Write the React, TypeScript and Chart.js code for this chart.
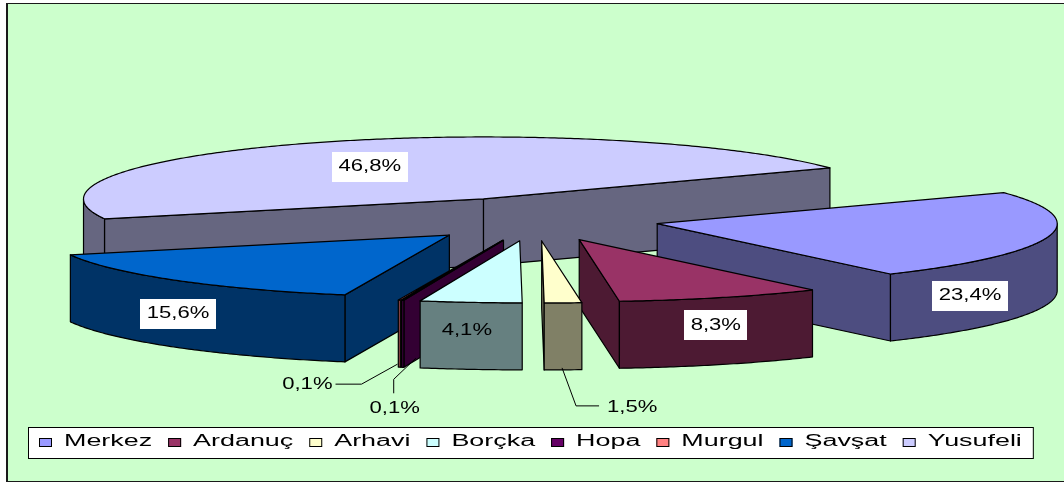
import React, { useEffect, useRef } from 'react';
import { Chart, PieController, ArcElement } from 'chart.js';

Chart.register(PieController, ArcElement);

// ---- data ----
const categories = ['Merkez', 'Ardanuç', 'Arhavi', 'Borçka', 'Hopa', 'Murgul', 'Şavşat', 'Yusufeli'];
const shares = [23.4, 8.3, 1.5, 4.1, 0.1, 0.1, 15.6, 46.8];
const percentLabels = shares.map((v) => v.toFixed(1).replace('.', ',') + '%');

// ---- styles ----
const topColors = ['#9999FF', '#993366', '#FFFFCC', '#CCFFFF', '#660066', '#FF8080', '#0066CC', '#CCCCFF'];
const sideColors = ['#4D4D80', '#4D1A33', '#808066', '#668080', '#330033', '#804040', '#003366', '#666680'];

// screen projection of the tilted pie
const VIEW = { cx: 535, cy: 219, rx: 400, ry: 62, ex: 125, ey: 22, depth: 67 };

const LABEL_FONT = '16px "Liberation Sans", Arial, sans-serif';
const LABEL_STRETCH = 1.38;
const LEGEND_FONT = '16px "Liberation Sans", Arial, sans-serif';
const LEGEND_STRETCH = 1.68;

type Placement =
  | { kind: 'wall' | 'top'; k: number; dy: number; box: boolean }
  | { kind: 'leader'; path: number[][]; text: number[]; align: CanvasTextAlign };

const labelPlacement: Placement[] = [
  { kind: 'wall', k: 0.8, dy: 0, box: true },
  { kind: 'wall', k: 0.965, dy: -6, box: true },
  { kind: 'leader', path: [[-1, -2], [13, 36], [36, 36]], text: [44, 38], align: 'left' },
  { kind: 'wall', k: 1.08, dy: -5, box: false },
  { kind: 'leader', path: [[13, -9], [-9, 12], [-9, 26]], text: [-8, 41], align: 'center' },
  { kind: 'leader', path: [[-2, -3], [-38, 17], [-64, 17]], text: [-67, 17], align: 'right' },
  { kind: 'wall', k: 0.99, dy: 0, box: true },
  { kind: 'top', k: 0.69, dy: 7, box: true },
];

type Geo = { arc: any; i: number; s: number; e: number; h: number; ax: number; ay: number };

function ellPt(g: Geo, t: number, dy = 0): [number, number] {
  return [g.ax + VIEW.rx * Math.cos(t), g.ay + VIEW.ry * Math.sin(t) + dy];
}

function drawSlice(ctx: CanvasRenderingContext2D, g: Geo) {
  const D = VIEW.depth;
  ctx.fillStyle = sideColors[g.i];
  ctx.strokeStyle = '#000';
  ctx.lineWidth = 1.2;
  // radial faces facing the viewer
  const faces: number[] = [];
  if (Math.cos(g.s) < 0) faces.push(g.s);
  if (Math.cos(g.e) > 0) faces.push(g.e);
  for (const t of faces) {
    const [px, py] = ellPt(g, t);
    ctx.beginPath();
    ctx.moveTo(g.ax, g.ay);
    ctx.lineTo(px, py);
    ctx.lineTo(px, py + D);
    ctx.lineTo(g.ax, g.ay + D);
    ctx.closePath();
    ctx.fill();
    ctx.stroke();
  }
  // outer curved wall (front half only)
  for (let k = -1; k <= 2; k++) {
    const lo = Math.max(g.s, 2 * Math.PI * k);
    const hi = Math.min(g.e, 2 * Math.PI * k + Math.PI);
    if (hi <= lo) continue;
    const n = Math.max(2, Math.ceil((hi - lo) / 0.01));
    ctx.beginPath();
    for (let j = 0; j <= n; j++) {
      const [x, y] = ellPt(g, lo + ((hi - lo) * j) / n);
      if (j) ctx.lineTo(x, y);
      else ctx.moveTo(x, y);
    }
    for (let j = n; j >= 0; j--) {
      const [x, y] = ellPt(g, lo + ((hi - lo) * j) / n, D);
      ctx.lineTo(x, y);
    }
    ctx.closePath();
    ctx.fill();
    ctx.stroke();
  }
  // top face: the Chart.js arc element, projected
  const r = g.arc.outerRadius;
  ctx.save();
  ctx.translate(g.ax, g.ay);
  ctx.scale(VIEW.rx / r, VIEW.ry / r);
  ctx.translate(-g.arc.x, -g.arc.y);
  g.arc.draw(ctx);
  ctx.restore();
  // outline of the top face
  const n = Math.max(2, Math.ceil((g.e - g.s) / 0.01));
  ctx.beginPath();
  ctx.moveTo(g.ax, g.ay);
  for (let j = 0; j <= n; j++) {
    const [x, y] = ellPt(g, g.s + ((g.e - g.s) * j) / n);
    ctx.lineTo(x, y);
  }
  ctx.closePath();
  ctx.stroke();
}

function stretchedText(ctx: CanvasRenderingContext2D, text: string, x: number, y: number, s: number, align: CanvasTextAlign) {
  ctx.save();
  ctx.translate(x, y);
  ctx.scale(s, 1);
  ctx.textAlign = align;
  ctx.textBaseline = 'middle';
  ctx.fillText(text, 0, 0);
  ctx.restore();
}

function drawLabels(ctx: CanvasRenderingContext2D, geos: Geo[]) {
  const D = VIEW.depth;
  ctx.save();
  ctx.font = LABEL_FONT;
  for (const g of geos) {
    const spec = labelPlacement[g.i];
    const text = percentLabels[g.i];
    const w = ctx.measureText(text).width * LABEL_STRETCH;
    if (spec.kind === 'leader') {
      const [axp, ayp] = ellPt(g, g.h, D);
      ctx.strokeStyle = '#000';
      ctx.lineWidth = 1;
      ctx.beginPath();
      spec.path.forEach(([dx, dy], j) => {
        if (j) ctx.lineTo(axp + dx, ayp + dy);
        else ctx.moveTo(axp + dx, ayp + dy);
      });
      ctx.stroke();
      ctx.fillStyle = '#000';
      stretchedText(ctx, text, axp + spec.text[0], ayp + spec.text[1], LABEL_STRETCH, spec.align);
      continue;
    }
    let x: number;
    let y: number;
    if (spec.kind === 'wall') {
      const c = spec.k * Math.cos(g.h);
      x = g.ax + spec.k * VIEW.rx * Math.cos(g.h);
      y = g.ay + VIEW.ry * Math.sqrt(Math.max(0, 1 - c * c)) + D / 2 + spec.dy;
    } else {
      x = g.ax + spec.k * VIEW.rx * Math.cos(g.h);
      y = g.ay + spec.k * VIEW.ry * Math.sin(g.h) + spec.dy;
    }
    if (spec.box) {
      ctx.fillStyle = '#FFFFFF';
      ctx.fillRect(Math.round(x - w / 2 - 6.5), Math.round(y - 15), Math.round(w + 13), 30);
    }
    ctx.fillStyle = '#000';
    stretchedText(ctx, text, x, y, LABEL_STRETCH, 'center');
  }
  ctx.restore();
}

const pie3d = {
  id: 'pie3d',
  beforeDraw(chart: any) {
    const ctx: CanvasRenderingContext2D = chart.ctx;
    ctx.save();
    ctx.fillStyle = '#FFFFFF';
    ctx.fillRect(0, 0, chart.width, chart.height);
    ctx.fillStyle = '#CCFFCC';
    ctx.fillRect(7, 4, chart.width - 7, 477);
    ctx.strokeStyle = '#1A1A1A';
    ctx.lineWidth = 1;
    ctx.strokeRect(6.5, 3.5, chart.width + 4, 478);
    ctx.fillStyle = '#1A1A1A';
    ctx.fillRect(6, 3, 2, 479);
    ctx.restore();
  },
  beforeDatasetDraw(chart: any, args: any) {
    const ctx: CanvasRenderingContext2D = chart.ctx;
    const geos: Geo[] = args.meta.data.map((arc: any, i: number) => {
      const h = (arc.startAngle + arc.endAngle) / 2;
      return {
        arc,
        i,
        s: arc.startAngle,
        e: arc.endAngle,
        h,
        ax: VIEW.cx + VIEW.ex * Math.cos(h),
        ay: VIEW.cy + VIEW.ey * Math.sin(h),
      };
    });
    const order = geos.slice().sort((p, q) => Math.sin(p.h) - Math.sin(q.h));
    ctx.save();
    ctx.lineJoin = 'round';
    for (const g of order) drawSlice(ctx, g);
    ctx.restore();
    drawLabels(ctx, geos);
    return false;
  },
  afterDraw(chart: any) {
    const ctx: CanvasRenderingContext2D = chart.ctx;
    const colors = chart.data.datasets[0].backgroundColor as string[];
    const names = chart.data.labels as string[];
    ctx.save();
    ctx.font = LEGEND_FONT;
    const startX = 39;
    const items: { x: number; w: number }[] = [];
    let x = startX;
    names.forEach((name) => {
      const w = ctx.measureText(name).width * LEGEND_STRETCH;
      items.push({ x, w });
      x += 13 + 12 + w + 16;
    });
    const endX = x - 16;
    ctx.fillStyle = '#FFFFFF';
    ctx.fillRect(28, 427, endX + 11 - 28, 31);
    ctx.strokeStyle = '#000';
    ctx.lineWidth = 1;
    ctx.strokeRect(28.5, 427.5, endX + 11 - 28, 31);
    names.forEach((name, i) => {
      const it = items[i];
      ctx.fillStyle = colors[i];
      ctx.fillRect(it.x, 438, 13, 9);
      ctx.strokeStyle = '#000';
      ctx.strokeRect(it.x + 0.5, 438.5, 12, 8);
      ctx.fillStyle = '#000';
      stretchedText(ctx, name, it.x + 25, 442, LEGEND_STRETCH, 'left');
    });
    ctx.restore();
  },
};

export default function App() {
  const ref = useRef<HTMLCanvasElement | null>(null);
  useEffect(() => {
    document.body.style.margin = '0';
    const canvas = ref.current;
    if (!canvas) return;
    const chart = new Chart(canvas, {
      type: 'pie',
      data: {
        labels: categories,
        datasets: [
          {
            data: shares,
            backgroundColor: topColors,
            borderWidth: 0,
          },
        ],
      },
      options: {
        responsive: false,
        animation: false,
        rotation: 60,
        events: [],
        layout: { padding: 0 },
      },
      plugins: [pie3d as any],
    });
    return () => chart.destroy();
  }, []);
  return <canvas ref={ref} width={1064} height={484} style={{ display: 'block', width: 1064, height: 484 }} />;
}
